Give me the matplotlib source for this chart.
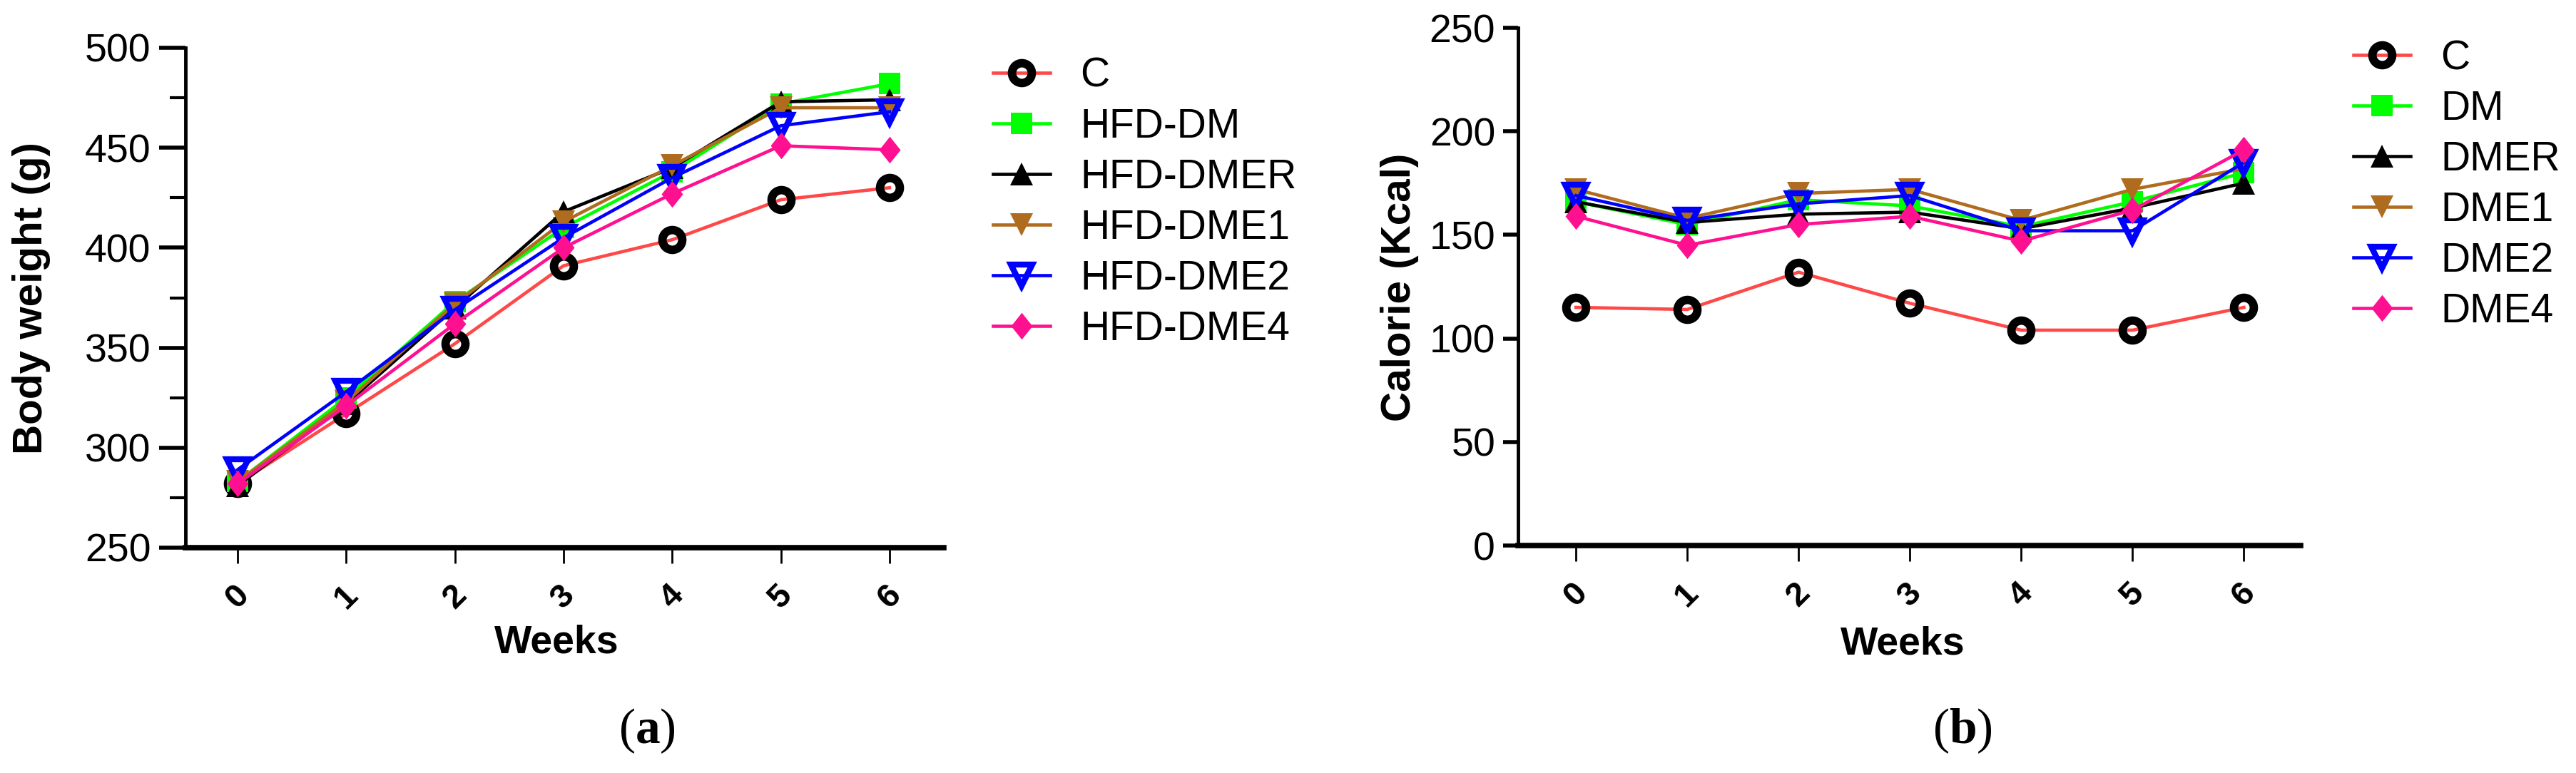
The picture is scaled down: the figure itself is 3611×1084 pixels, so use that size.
import matplotlib
matplotlib.use('Agg')
import matplotlib.pyplot as plt
from matplotlib.ticker import MultipleLocator

# Semanas
weeks = [0, 1, 2, 3, 4, 5, 6]

# (a) Peso corporal (g)
bw_labels = ['C', 'HFD-DM', 'HFD-DMER', 'HFD-DME1', 'HFD-DME2', 'HFD-DME4']
bw_c = [282, 317, 352, 391, 404, 424, 430]
bw_dm = [283, 325, 373, 410, 438, 472, 482]
bw_dmer = [281, 322, 370, 418, 440, 473, 474]
bw_dme1 = [283, 323, 372, 413, 441, 470, 470]
bw_dme2 = [289, 328, 369, 405, 435, 461, 468]
bw_dme4 = [282, 321, 362, 400, 427, 451, 449]

# (b) Calorias (Kcal)
cal_labels = ['C', 'DM', 'DMER', 'DME1', 'DME2', 'DME4']
cal_c = [115, 114, 132, 117, 104, 104, 115]
cal_dm = [166, 155, 167, 164, 154, 166, 180]
cal_dmer = [166, 156, 160, 161, 153, 163, 175]
cal_dme1 = [172, 158, 170, 172, 157, 172, 182]
cal_dme2 = [169, 157, 165, 169, 152, 152, 185]
cal_dme4 = [159, 145, 155, 159, 147, 162, 191]

plt.rcParams['font.family'] = ['Liberation Sans']
plt.rcParams['mathtext.fontset'] = 'custom'
plt.rcParams['mathtext.rm'] = 'Liberation Serif'
plt.rcParams['mathtext.bf'] = 'Liberation Serif:bold'

W, H = 3611, 1084
diamond = [(0, 1), (0.8, 0), (0, -1), (-0.8, 0), (0, 1)]

# estilos de cada grupo
styles = [
    dict(color='#ff4848', marker='o', ms=20, mfc='none', mec='black', mew=8.5),
    dict(color='#00ff00', marker='s', ms=22, mec='#00ff00', mew=0),
    dict(color='black', marker='^', ms=23, mew=0),
    dict(color='#b06c1e', marker='v', ms=23, mew=0),
    dict(color='#0000ff', marker='v', ms=21, mfc='none', mew=6),
    dict(color='#ff1090', marker=diamond, ms=27, mew=0),
]


def px(x, y):
    return x / W, 1 - y / H


fig = plt.figure(figsize=(W / 100, H / 100), dpi=100)

# --- panel (a) ---
ax1 = fig.add_axes([260 / W, 1 - 768 / H, 1063 / W, 701 / H])
for vals, lab, st in zip([bw_c, bw_dm, bw_dmer, bw_dme1, bw_dme2, bw_dme4], bw_labels, styles):
    ax1.plot(weeks, vals, label=lab, lw=3.3, clip_on=False, **st)
ax1.set_xlim(-0.48, 6.5)
ax1.set_ylim(250, 500)
ax1.yaxis.set_major_locator(MultipleLocator(50))
ax1.yaxis.set_minor_locator(MultipleLocator(25))
ax1.tick_params(axis='y', which='major', length=27, width=4, labelsize=40, pad=8)
ax1.tick_params(axis='y', which='minor', length=16, width=3)

# --- panel (b) ---
ax2 = fig.add_axes([2128 / W, 1 - 765 / H, 1097 / W, 726 / H])
for vals, lab, st in zip([cal_c, cal_dm, cal_dmer, cal_dme1, cal_dme2, cal_dme4], cal_labels, styles):
    ax2.plot(weeks, vals, label=lab, lw=3.3, clip_on=False, **st)
ax2.set_xlim(-0.52, 6.51)
ax2.set_ylim(0, 250)
ax2.yaxis.set_major_locator(MultipleLocator(50))
ax2.tick_params(axis='y', which='major', length=15, width=4, labelsize=40, pad=8)

for ax in (ax1, ax2):
    ax.spines['top'].set_visible(False)
    ax.spines['right'].set_visible(False)
    ax.spines['left'].set_linewidth(3.5)
    ax.spines['bottom'].set_linewidth(5.5)
    ax.set_xticks(weeks)
    ax.set_xticklabels([str(w) for w in weeks], rotation=45, fontweight='bold', fontsize=34)
    ax.tick_params(axis='x', length=16, width=2, pad=16)

# etiquetas de ejes
fig.text(*px(44, 418), 'Body weight (g)', rotation=90, ha='center', va='center',
         fontsize=42, fontweight='bold')
fig.text(*px(1962, 403), 'Calorie (Kcal)', rotation=90, ha='center', va='center',
         fontsize=42, fontweight='bold')
fig.text(*px(780, 902), 'Weeks', ha='center', va='center', fontsize=40, fontweight='bold')
fig.text(*px(2667, 904), 'Weeks', ha='center', va='center', fontsize=40, fontweight='bold')

# leyendas
leg_kw = dict(loc='upper left', bbox_transform=fig.transFigure, frameon=False,
              prop=dict(size=41), handlelength=1.4,
              handletextpad=0.75, labelspacing=0.3, borderpad=0, borderaxespad=0)
ax1.legend(bbox_to_anchor=px(1392, 80), **leg_kw)
ax2.legend(bbox_to_anchor=px(3299, 55), **leg_kw)

# (a) y (b)
fig.text(*px(907, 1025), r'($\mathbf{a}$)', ha='center', va='center', fontsize=50,
         family='Liberation Serif')
fig.text(*px(2751, 1025), r'($\mathbf{b}$)', ha='center', va='center', fontsize=50,
         family='Liberation Serif')

fig.savefig('out.png', dpi=100, facecolor='white')
